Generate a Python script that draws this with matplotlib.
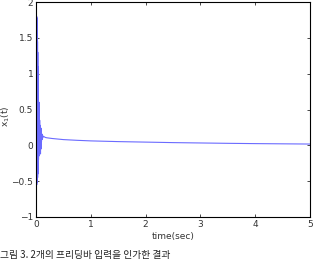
import matplotlib
matplotlib.use("Agg")
import matplotlib.pyplot as plt

plt.rcParams['font.family'] = ['DejaVu Sans', 'Noto Sans CJK KR']

# time samples (sec) and response x1(t)
t_vals = [0.000, 0.008, 0.010, 0.012, 0.014, 0.016, 0.018, 0.020, 0.022, 0.024,
          0.026, 0.028, 0.030, 0.032, 0.034, 0.036, 0.038, 0.040, 0.042, 0.044,
          0.046, 0.049, 0.052, 0.055, 0.058, 0.061, 0.064, 0.067, 0.070, 0.073,
          0.076, 0.079, 0.082, 0.085, 0.088, 0.091, 0.094, 0.097, 0.100, 0.105,
          0.110, 0.115, 0.120, 0.130, 0.140, 0.150, 0.170, 0.200, 0.300, 0.500,
          0.750, 1.000, 1.500, 2.000, 2.500, 3.000, 3.500, 4.000, 4.500, 5.000]
x_vals = [0.00, 1.82, -0.50, 1.80, -0.55, 1.78, -0.52, 1.70, -0.50, 1.60,
          -0.48, 1.45, -0.45, 1.30, -0.40, 1.10, -0.35, 0.90, -0.30, 0.70,
          -0.20, 0.45, -0.15, 0.35, 0.00, 0.60, -0.05, 0.35, 0.00, 0.28,
          -0.10, 0.25, -0.12, 0.22, 0.02, 0.24, -0.05, 0.18, 0.05, 0.16,
          0.08, 0.15, 0.10, 0.13, 0.12, 0.12, 0.11, 0.105, 0.095, 0.08,
          0.07, 0.062, 0.052, 0.045, 0.038, 0.033, 0.028, 0.024, 0.021, 0.018]

x_ticks = [0, 1, 2, 3, 4, 5]
y_ticks = [-1, -0.5, 0, 0.5, 1, 1.5, 2]
y_tick_labels = ['\u22121', '\u22120.5', '0', '0.5', '1', '1.5', '2']

fig = plt.figure(figsize=(3.14, 2.59), dpi=100)
ax = fig.add_axes([36/314, 1 - 217/259, (310-36)/314, (217-2)/259])
ax.plot(t_vals, x_vals, color='#6b6bff', linewidth=0.8)
ax.set_xlim(0, 5)
ax.set_ylim(-1, 2)
ax.set_xticks(x_ticks)
ax.set_xticklabels([str(v) for v in x_ticks])
ax.set_yticks(y_ticks)
ax.set_yticklabels(y_tick_labels)
ax.tick_params(direction='in', length=2.5, width=0.5, labelsize=6.5, pad=2,
               top=True, right=True, labelcolor='#333333')
for s in ax.spines.values():
    s.set_linewidth(0.8)
ax.set_xlabel('time(sec)', fontsize=6.5, labelpad=2, color='#333333')
ax.set_ylabel('x$_1$(t)', fontsize=6.5, color='#333333')
ax.yaxis.set_label_coords(-24/274, 0.47)

fig.text(0.0, 1 - 258/259, '그림 3. 2개의 프리딩바 입력을 인가한 결과',
         fontsize=7, family=['Noto Sans CJK KR', 'DejaVu Sans'], va='baseline',
         color='#222222')

fig.savefig('out.png', dpi=100)
